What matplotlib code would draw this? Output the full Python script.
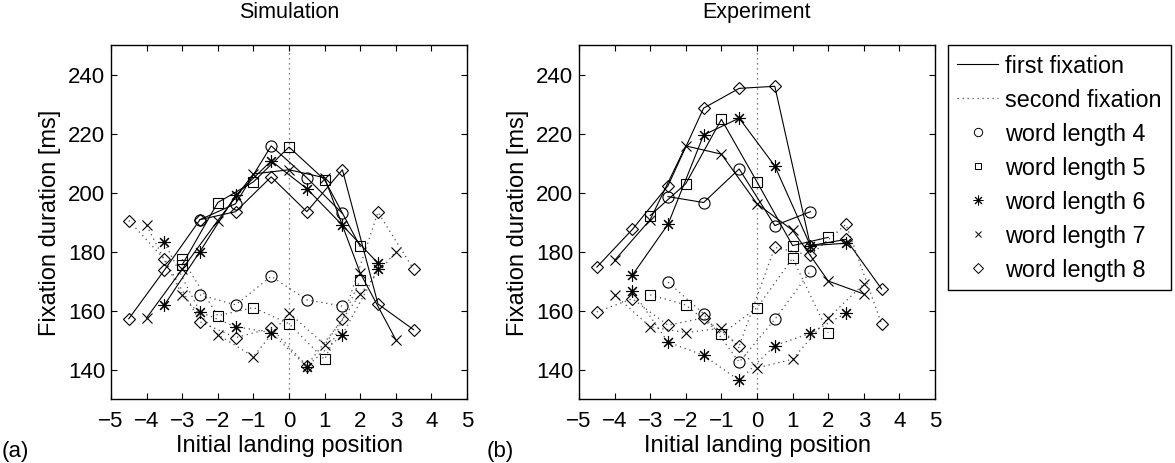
import numpy as np
import matplotlib
matplotlib.use("Agg")
from matplotlib import pyplot as plt
from matplotlib.lines import Line2D

plt.rcParams['font.family'] = ['Liberation Sans', 'DejaVu Sans']

# landing positions per word length
pos4 = [-2.5, -1.5, -0.5, 0.5, 1.5]
pos5 = [-3, -2, -1, 0, 1, 2]
pos6 = [-3.5, -2.5, -1.5, -0.5, 0.5, 1.5, 2.5]
pos7 = [-4, -3, -2, -1, 0, 1, 2, 3]
pos8 = [-4.5, -3.5, -2.5, -1.5, -0.5, 0.5, 1.5, 2.5, 3.5]

# simulation, first / second fixation durations [ms]
sim_first4 = [190.8, 196.2, 215.8, 205.0, 192.9]
sim_first5 = [175.5, 196.6, 203.6, 215.4, 204.3, 181.7]
sim_first6 = [161.9, 180.0, 199.0, 210.7, 201.3, 188.9, 176.0]
sim_first7 = [157.5, 174.0, 190.5, 206.3, 207.7, 205.0, 172.7, 150.1]
sim_first8 = [157.2, 173.7, 190.8, 193.5, 205.3, 193.5, 207.7, 162.2, 153.5]

sim_second4 = [165.3, 161.9, 171.6, 163.6, 161.5]
sim_second5 = [177.4, 158.2, 161.0, 155.5, 143.4, 170.4]
sim_second6 = [183.1, 159.5, 154.5, 152.5, 141.0, 151.8, 174.0]
sim_second7 = [188.9, 165.3, 151.8, 144.4, 159.2, 148.4, 165.6, 180.0]
sim_second8 = [190.5, 177.4, 156.2, 150.8, 154.0, 141.3, 157.0, 193.3, 174.0]

# experiment, first / second fixation durations [ms]
exp_first4 = [198.6, 196.6, 208.0, 188.8, 193.5]
exp_first5 = [192.2, 203.0, 224.8, 203.6, 182.0, 184.8]
exp_first6 = [172.0, 189.2, 219.5, 225.2, 209.0, 182.0, 182.8]
exp_first7 = [177.0, 190.8, 215.8, 213.0, 196.2, 187.2, 170.0, 165.6]
exp_first8 = [174.7, 187.5, 202.3, 228.6, 235.3, 236.0, 182.0, 184.1, 167.3]

exp_second4 = [169.6, 158.9, 142.5, 157.0, 173.3]
exp_second5 = [165.3, 161.9, 152.0, 160.9, 177.7, 152.5]
exp_second6 = [166.6, 149.3, 144.8, 136.3, 148.1, 152.3, 159.1]
exp_second7 = [165.3, 154.5, 152.5, 154.0, 140.5, 143.5, 157.5, 169.0]
exp_second8 = [159.5, 164.0, 155.0, 157.5, 148.0, 181.4, 178.7, 189.2, 155.5]

titles = ["Simulation", "Experiment"]
panel_labels = ["(a)", "(b)"]
xticks = [-5, -4, -3, -2, -1, 0, 1, 2, 3, 4, 5]
yticks = [140, 160, 180, 200, 220, 240]

positions = [pos4, pos5, pos6, pos7, pos8]
markers = ['o', 's', (8, 2, 0), 'x', 'D']
msizes = [8, 7, 9, 7, 6.5]
first = [[sim_first4, sim_first5, sim_first6, sim_first7, sim_first8],
         [exp_first4, exp_first5, exp_first6, exp_first7, exp_first8]]
second = [[sim_second4, sim_second5, sim_second6, sim_second7, sim_second8],
          [exp_second4, exp_second5, exp_second6, exp_second7, exp_second8]]

fig = plt.figure(figsize=(11.75, 4.64), dpi=100)
ax_a = fig.add_axes([111 / 1175, 1 - 400 / 464, 356 / 1175, 354 / 464])
ax_b = fig.add_axes([579 / 1175, 1 - 400 / 464, 356 / 1175, 354 / 464])

fs = 16
for k, ax in enumerate([ax_a, ax_b]):
    ax.axvline(0, color='0.35', linestyle=(0, (1, 3)), lw=0.9, zorder=1)
    for pos, m, ms, f, s in zip(positions, markers, msizes, first[k], second[k]):
        ax.plot(pos, s, linestyle=(0, (1, 3)), color='0.3', lw=0.9,
                marker=m, ms=ms, mfc='none', mec='black', mew=0.8, zorder=2)
        ax.plot(pos, f, linestyle='-', color='black', lw=0.8,
                marker=m, ms=ms, mfc='none', mec='black', mew=0.8, zorder=3)
    ax.set_xlim(-5, 5)
    ax.set_ylim(130, 250)
    ax.set_xticks(xticks)
    ax.set_yticks(yticks)
    ax.tick_params(direction='in', top=True, right=True, length=4, width=0.8,
                   labelsize=fs)
    ax.tick_params(axis='x', pad=8)
    ax.tick_params(axis='y', pad=4)
    for sp in ax.spines.values():
        sp.set_linewidth(1.0)
    ax.set_xlabel("Initial landing position", fontsize=17, labelpad=2)
    ax.set_ylabel("Fixation duration [ms]", fontsize=17, labelpad=5)
    ax.set_title(titles[k], fontsize=15.5, pad=20)

fig.text(2 / 1175, 1 - 452 / 464, panel_labels[0], fontsize=fs, va='center', ha='left')
fig.text(487 / 1175, 1 - 452 / 464, panel_labels[1], fontsize=fs, va='center', ha='left')

handles = [Line2D([], [], color='black', lw=0.8, linestyle='-'),
           Line2D([], [], color='0.3', lw=0.9, linestyle=(0, (1, 3))),
           Line2D([], [], linestyle='none', marker='o', ms=6, mfc='none', mec='black', mew=0.7),
           Line2D([], [], linestyle='none', marker='s', ms=5, mfc='none', mec='black', mew=0.7),
           Line2D([], [], linestyle='none', marker=(8, 2, 0), ms=7, mfc='none', mec='black', mew=0.7),
           Line2D([], [], linestyle='none', marker='x', ms=5, mfc='none', mec='black', mew=0.7),
           Line2D([], [], linestyle='none', marker='D', ms=5, mfc='none', mec='black', mew=0.7)]
labels = ["first fixation", "second fixation", "word length 4", "word length 5",
          "word length 6", "word length 7", "word length 8"]
leg = fig.legend(handles, labels, loc='upper left',
                 bbox_to_anchor=(948 / 1175, 1 - 46 / 464), fontsize=16.8,
                 frameon=True, fancybox=False, edgecolor='black', framealpha=1,
                 handlelength=1.75, handletextpad=0.3, borderpad=0.4,
                 labelspacing=0.47, borderaxespad=0)
leg.get_frame().set_linewidth(1.0)

fig.savefig("out.png", dpi=100)
